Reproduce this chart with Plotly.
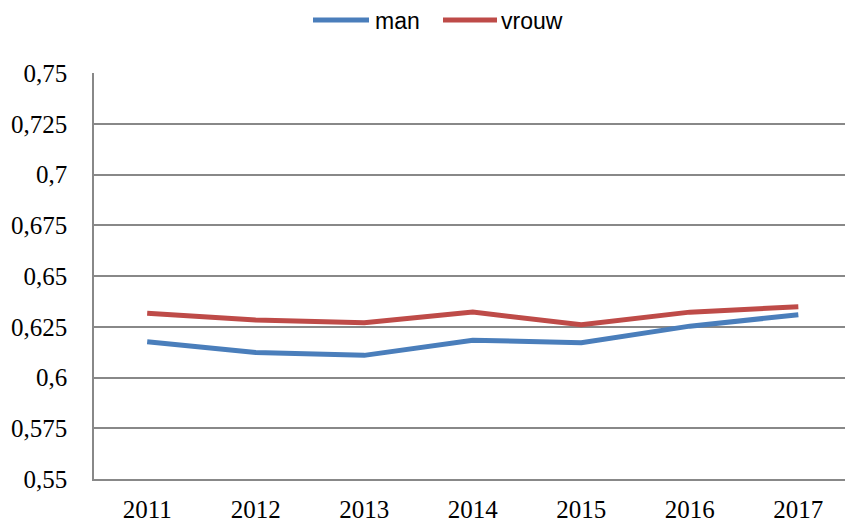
import plotly.graph_objects as go

years = ["2011", "2012", "2013", "2014", "2015", "2016", "2017"]
man = [0.6176, 0.6123, 0.6109, 0.6184, 0.6171, 0.6253, 0.6309]
vrouw = [0.6316, 0.6283, 0.6270, 0.6322, 0.6260, 0.6322, 0.6349]
y_ticks = [0.55, 0.575, 0.6, 0.625, 0.65, 0.675, 0.7, 0.725, 0.75]
y_ticktext = ["0,55", "0,575", "0,6", "0,625", "0,65", "0,675", "0,7", "0,725", "0,75"]
series_names = ["man", "vrouw"]
series_colors = ["#4A7EBB", "#BE4B48"]

xs = list(range(len(years)))

fig = go.Figure()
for name, vals, col in zip(series_names, [man, vrouw], series_colors):
    fig.add_trace(go.Scatter(x=xs, y=vals, name=name, mode="lines",
                             line=dict(color=col, width=5), showlegend=False))

# manual legend (paper coordinates) above the plot
W, H = 751.0, 406.0
def px(x):
    return (x - 94) / W
def py(y):
    return (479 - y) / H

legend_items = [(313, 369, 373), (443, 497, 499)]
for (x0, x1, xt), name, col in zip(legend_items, series_names, series_colors):
    fig.add_shape(type="line", xref="paper", yref="paper",
                  x0=px(x0), x1=px(x1), y0=py(20), y1=py(20),
                  line=dict(color=col, width=5))
    fig.add_annotation(xref="paper", yref="paper", x=px(xt), y=py(21),
                       text=name, showarrow=False, xanchor="left", yanchor="middle",
                       font=dict(family="Liberation Sans", size=23, color="#000000"))

fig.update_layout(
    width=845, height=527,
    margin=dict(l=94, r=0, t=73, b=48, autoexpand=False),
    paper_bgcolor="white", plot_bgcolor="white",
    showlegend=False,
    xaxis=dict(range=[-0.49, 6.43], tickvals=xs, ticktext=years,
               showgrid=False, zeroline=False, showline=True,
               linecolor="#888888", linewidth=1.5,
               ticks="", ticklabelstandoff=7,
               tickfont=dict(family="Liberation Serif", size=25, color="#000000")),
    yaxis=dict(range=[0.55, 0.75], tickvals=y_ticks, ticktext=y_ticktext,
               showgrid=True, gridcolor="#888888", gridwidth=1.5,
               zeroline=False, showline=True, linecolor="#888888", linewidth=1.5,
               ticks="", ticklabelstandoff=20,
               tickfont=dict(family="Liberation Serif", size=25, color="#000000")),
)

fig.write_html("out.html", config={"displayModeBar": False},
               post_script="document.body.style.margin='0px';document.body.style.overflow='hidden';")
